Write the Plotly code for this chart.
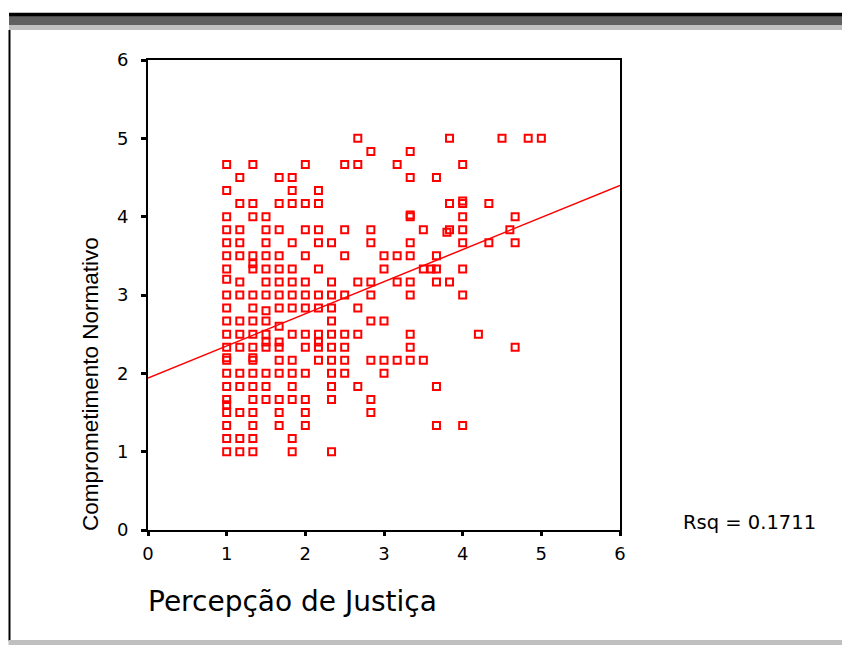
import plotly.graph_objects as go

# ---------------- data ----------------
justica = [
    2.667, 3.833, 4.5, 4.833, 5,
    2.833, 3.333,
    1, 1.333, 2, 2.5, 2.667, 3.167, 4,
    1.167, 1.667, 1.833, 3.333, 3.667,
    1, 1.833, 2.167,
    4,
    1.167, 1.333, 1.667, 1.833, 2, 2.167, 3.833, 4, 4.333,
    1, 1.333, 1.5, 3.333, 3.333, 4, 4.667,
    1, 1.167, 1.5, 1.667, 2, 2.167, 2.5, 2.833, 3.5, 3.833, 4, 4.6,
    3.8,
    1, 1.167, 1.5, 1.833, 2.167, 2.333, 2.833, 3.333, 4, 4.333, 4.667,
    1, 1.167, 1.333, 1.5, 1.667, 2, 2.5, 3, 3.167, 3.333, 3.667,
    1.333,
    1, 1.333, 1.5, 1.667, 1.833, 2.167, 3, 3.5, 3.6, 3.667, 4,
    1,
    1.167, 1.5, 1.667, 1.833, 2, 2.333, 2.667, 2.833, 3.167, 3.333, 3.667, 3.833,
    1, 1.167, 1.333, 1.5, 1.667, 1.833, 2, 2.167, 2.333, 2.5, 2.833, 3.333, 4,
    1, 1.333, 1.667, 1.833, 2, 2.167, 2.333, 2.667,
    1.5,
    1, 1.167, 1.333, 1.5, 2.333, 2.833, 3,
    1.667,
    1, 1.167, 1.333, 1.5, 1.833, 2, 2.167, 2.333, 2.5, 2.667, 3.333, 4.2,
    1.5, 1.667, 2.167,
    1, 1.167, 1.333, 1.5, 1.667, 2, 2.167, 2.333, 2.5, 3.333, 4.667,
    1, 1.333,
    1, 1.333, 1.667, 1.833, 2.167, 2.333, 2.5, 2.833, 3, 3.167, 3.333, 3.5,
    1, 1.167, 1.333, 1.5, 1.667, 1.833, 2, 2.333, 2.5, 3,
    1, 1.167, 1.333, 1.5, 1.833, 2.333, 2.667, 3.667,
    1, 1.333, 1.5, 1.667, 1.833, 2, 2.333, 2.833,
    1,
    1, 1.167, 1.333, 1.667, 2, 2.833,
    1, 1.333, 1.667, 2, 3.667, 4,
    1, 1.167, 1.333, 1.833,
    1, 1.167, 1.333, 1.833, 2.333,
]
normativo = [
    5, 5, 5, 5, 5,
    4.833, 4.833,
    4.667, 4.667, 4.667, 4.667, 4.667, 4.667, 4.667,
    4.5, 4.5, 4.5, 4.5, 4.5,
    4.333, 4.333, 4.333,
    4.2,
    4.167, 4.167, 4.167, 4.167, 4.167, 4.167, 4.167, 4.167, 4.167,
    4, 4, 4, 4, 4.02, 4, 4,
    3.833, 3.833, 3.833, 3.833, 3.833, 3.833, 3.833, 3.833, 3.833, 3.833, 3.833, 3.833,
    3.8,
    3.667, 3.667, 3.667, 3.667, 3.667, 3.667, 3.667, 3.667, 3.667, 3.667, 3.667,
    3.5, 3.5, 3.5, 3.5, 3.5, 3.5, 3.5, 3.5, 3.5, 3.5, 3.5,
    3.4,
    3.333, 3.333, 3.333, 3.333, 3.333, 3.333, 3.333, 3.333, 3.333, 3.333, 3.333,
    3.2,
    3.167, 3.167, 3.167, 3.167, 3.167, 3.167, 3.167, 3.167, 3.167, 3.167, 3.167, 3.167,
    3, 3, 3, 3, 3, 3, 3, 3, 3, 3, 3, 3, 3,
    2.833, 2.833, 2.833, 2.833, 2.833, 2.833, 2.833, 2.833,
    2.8,
    2.667, 2.667, 2.667, 2.667, 2.667, 2.667, 2.667,
    2.6,
    2.5, 2.5, 2.5, 2.5, 2.5, 2.5, 2.5, 2.5, 2.5, 2.5, 2.5, 2.5,
    2.4, 2.4, 2.4,
    2.333, 2.333, 2.333, 2.333, 2.333, 2.333, 2.333, 2.333, 2.333, 2.333, 2.333,
    2.2, 2.2,
    2.167, 2.167, 2.167, 2.167, 2.167, 2.167, 2.167, 2.167, 2.167, 2.167, 2.167, 2.167,
    2, 2, 2, 2, 2, 2, 2, 2, 2, 2,
    1.833, 1.833, 1.833, 1.833, 1.833, 1.833, 1.833, 1.833,
    1.667, 1.667, 1.667, 1.667, 1.667, 1.667, 1.667, 1.667,
    1.6,
    1.5, 1.5, 1.5, 1.5, 1.5, 1.5,
    1.333, 1.333, 1.333, 1.333, 1.333, 1.333,
    1.167, 1.167, 1.167, 1.167,
    1, 1, 1, 1, 1,
]

fit_intercept = 1.94
fit_slope = 0.41
fit_x = [0, 6]
rsq_text = "Rsq = 0.1711"
x_title = "Percepção de Justiça"
y_title = "Comprometimento Normativo"
tick_values = [0, 1, 2, 3, 4, 5, 6]

# ---------------- layout geometry ----------------
W, H = 842, 645
L, R, T, B = 148, 620, 60, 530  # plot area in pixels


def px(xp):
    return (xp - L) / (R - L)


def py(yp):
    return (B - yp) / (B - T)


fig = go.Figure()

fig.add_trace(go.Scatter(
    x=fit_x,
    y=[fit_intercept + fit_slope * v for v in fit_x],
    mode="lines",
    line=dict(color="#ff0000", width=1.5),
    hoverinfo="skip",
    showlegend=False,
))

fig.add_trace(go.Scatter(
    x=justica, y=normativo,
    mode="markers",
    marker=dict(symbol="square-open", size=7, color="#ff0000",
                line=dict(width=2, color="#ff0000")),
    showlegend=False,
    cliponaxis=False,
))

tickfont = dict(family="DejaVu Sans, Arial, sans-serif", size=18, color="black")
axis_common = dict(
    range=[0, 6], tickmode="array", tickvals=tick_values,
    showline=True, mirror=True, linecolor="black", linewidth=2,
    ticks="outside", tickcolor="black", tickwidth=3,
    showgrid=False, zeroline=False, tickfont=tickfont,
)

fig.update_layout(
    width=W, height=H,
    margin=dict(l=L, r=W - R, t=T, b=H - B, pad=0),
    paper_bgcolor="white", plot_bgcolor="white",
    xaxis=dict(**axis_common, ticklen=4, ticklabelstandoff=2),
    yaxis=dict(**axis_common, ticklen=5, ticklabelstandoff=9),
    showlegend=False,
)

shapes = [
    # top banner: black / dark gray / light gray
    dict(x0=px(9), x1=px(W + 5), y0=py(16.7), y1=py(12.7), fillcolor="black"),
    dict(x0=px(9), x1=px(W + 5), y0=py(25), y1=py(16.7), fillcolor="#606060"),
    dict(x0=px(9), x1=px(W + 5), y0=py(30), y1=py(25), fillcolor="#c0c0c0"),
    # left vertical rule
    dict(x0=px(8.5), x1=px(10.5), y0=py(641), y1=py(30), fillcolor="black"),
    # bottom gray bar
    dict(x0=px(8.5), x1=px(W + 5), y0=py(646), y1=py(640), fillcolor="#c0c0c0"),
]
for s in shapes:
    fig.add_shape(type="rect", xref="paper", yref="paper",
                  line=dict(width=0), layer="above", **s)

fig.add_annotation(
    text=x_title, xref="paper", yref="paper",
    x=px(146), y=py(601), xanchor="left", yanchor="middle", showarrow=False,
    font=dict(family="DejaVu Sans, Arial, sans-serif", size=28, color="black"),
)
fig.add_annotation(
    text=y_title, xref="paper", yref="paper", textangle=-90,
    x=px(90), y=py(384), xanchor="center", yanchor="middle", showarrow=False,
    font=dict(family="Liberation Sans, Arial, sans-serif", size=22.5, color="black"),
)
fig.add_annotation(
    text=rsq_text, xref="paper", yref="paper",
    x=px(681), y=py(522), xanchor="left", yanchor="middle", showarrow=False,
    font=dict(family="DejaVu Sans, Arial, sans-serif", size=19.5, color="black"),
)

fig.write_html("out.html")
